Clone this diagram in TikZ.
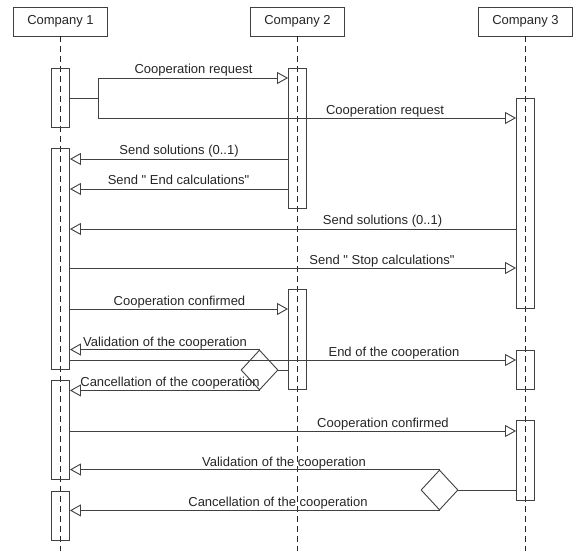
\documentclass[tikz,border=0pt]{standalone}
\usepackage{fontspec}
\setmainfont{Liberation Sans}
\usetikzlibrary{arrows.meta,shapes.geometric}
\begin{document}
\begin{tikzpicture}[x=1pt,y=-1pt,
 every node/.style={font=\fontsize{13}{15}\selectfont, text=black!85},
 head/.style={draw=black!75, line width=0.9pt, minimum width=94pt, minimum height=29pt, inner sep=0},
 act/.style={draw=black!75, line width=0.9pt, minimum width=18pt, inner sep=0, anchor=north},
 life/.style={draw=black!85, line width=0.9pt, dash pattern=on 6pt off 4pt},
 msg/.style={draw=black!75, line width=0.9pt, -{Triangle[open,length=11pt,width=12pt]}},
 wire/.style={draw=black!75, line width=0.9pt},
 lbl/.style={anchor=base, inner sep=0},
 dec/.style={diamond, draw=black!75, line width=0.9pt, minimum width=37pt, minimum height=40pt, inner sep=0}]
\useasboundingbox (0,0) rectangle (574,551);
\fill[white] (0,0) rectangle (574,551);
% headers
\node[head] (c1) at (60.5,21.5) {Company 1};
\node[head] (c2) at (297.5,21.5) {Company 2};
\node[head] (c3) at (525.5,21.5) {Company 3};
\coordinate (bot) at (0,551);
% lifelines
\draw[life] (c1.south) -- (c1.south |- bot);
\draw[life] (c2.south) -- (c2.south |- bot);
\draw[life] (c3.south) -- (c3.south |- bot);
% activation boxes
\node[act, minimum height=59pt] (a1a) at (60.5,68) {};
\node[act, minimum height=221pt] (a1b) at (60.5,148) {};
\node[act, minimum height=99pt] (a1c) at (60.5,380) {};
\node[act, minimum height=49pt] (a1d) at (60.5,491) {};
\node[act, minimum height=140pt] (a2a) at (297.5,68) {};
\node[act, minimum height=100pt] (a2b) at (297.5,289) {};
\node[act, minimum height=210pt] (a3a) at (525.5,98) {};
\node[act, minimum height=39pt] (a3b) at (525.5,350) {};
\node[act, minimum height=80pt] (a3c) at (525.5,420) {};
% message levels
\coordinate (y1) at (0,78);
\coordinate (y2) at (0,118);
\coordinate (y3) at (0,159);
\coordinate (y4) at (0,189);
\coordinate (y5) at (0,229);
\coordinate (y6) at (0,268);
\coordinate (y7) at (0,309);
\coordinate (y8) at (0,360);
\coordinate (y9) at (0,431);
\coordinate (fk) at (98,98);
% fork
\draw[wire] (a1a.east |- fk) -- (fk);
\draw[wire] (fk |- y1) -- (fk |- y2);
\draw[msg] (fk |- y1) -- (a2a.west |- y1);
\draw[msg] (fk |- y2) -- (a3a.west |- y2);
\node[lbl] (t1) at (193.5,74) {Cooperation request};
\node[lbl] (t2) at (385,114) {Cooperation request};
% replies
\draw[msg] (a2a.west |- y3) -- (a1b.east |- y3);
\node[lbl] (t3) at (179,155) {Send solutions (0..1)};
\draw[msg] (a2a.west |- y4) -- (a1b.east |- y4);
\node[lbl] (t4) at (178.5,185) {Send \textquotedbl{} End calculations\textquotedbl};
\draw[msg] (a3a.west |- y5) -- (a1b.east |- y5);
\node[lbl] (t5) at (382.5,225) {Send solutions (0..1)};
\draw[msg] (a1b.east |- y6) -- (a3a.west |- y6);
\node[lbl] (t6) at (382,264) {Send \textquotedbl{} Stop calculations\textquotedbl};
\draw[msg] (a1b.east |- y7) -- (a2b.west |- y7);
\node[lbl] (t7) at (179.5,305) {Cooperation confirmed};
\draw[msg] (a1b.east |- y8) -- (a3b.west |- y8);
\node[lbl] (t8) at (394,356) {End of the cooperation};
% decision 1
\node[dec] (d1) at (259.5,370) {};
\draw[wire] (a2b.west |- d1) -- (d1.east);
\draw[msg] (d1.north) -- (a1b.east |- d1.north);
\draw[msg] (d1.south) -- (a1c.east |- d1.south);
\node[lbl] (t9) at (165,346) {Validation of the cooperation};
\node[lbl] (t10) at (170,386) {Cancellation of the cooperation};
% second round
\draw[msg] (a1c.east |- y9) -- (a3c.west |- y9);
\node[lbl] (t11) at (383,427) {Cooperation confirmed};
\node[dec] (d2) at (439.5,490) {};
\draw[wire] (a3c.west |- d2) -- (d2.east);
\draw[msg] (d2.north) -- (a1c.east |- d2.north);
\draw[msg] (d2.south) -- (a1d.east |- d2.south);
\node[lbl] (t12) at (284,466) {Validation of the cooperation};
\node[lbl] (t13) at (278,506) {Cancellation of the cooperation};
\end{tikzpicture}
\end{document}
